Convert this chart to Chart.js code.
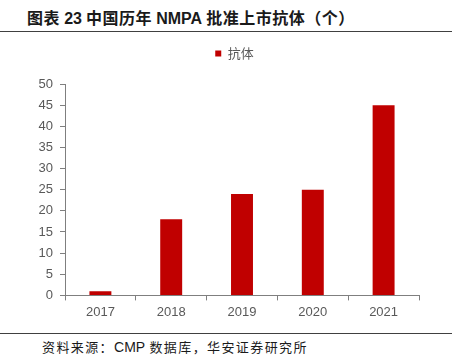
<!DOCTYPE html>
<html>
<head>
<meta charset="utf-8">
<script src="https://cdn.jsdelivr.net/npm/chart.js@4"></script>
<style>
    body { margin: 0; width: 459px; height: 363px; background: #fff; position: relative; overflow: hidden; }
    #title { position: absolute; left: 27px; top: 5px; font: bold 16px "Noto Sans CJK SC", sans-serif; letter-spacing: 0.5px; color: #1a1a1a; white-space: nowrap; }
    #title .lat { font-family: "Liberation Sans", Arial, sans-serif; letter-spacing: 0; }
    .rule { position: absolute; left: 0; width: 452px; height: 1px; background: #404040; }
    #source { position: absolute; left: 42px; top: 337px; font: 13px "Noto Sans CJK SC", sans-serif; letter-spacing: 1.4px; color: #1a1a1a; white-space: nowrap; }
    #source .lat { font-family: "Liberation Sans", Arial, sans-serif; font-size: 14px; letter-spacing: 0; }
    #box { position: absolute; left: 0; top: 38px; width: 459px; height: 290px; }
</style>
</head>
<body>
<div id="title">图表 <span class="lat">23</span> 中国历年 <span class="lat">NMPA</span> 批准上市抗体（个）</div>
<div class="rule" style="top:31px"></div>
<div id="box"><canvas id="chart"></canvas></div>
<div class="rule" style="top:333px"></div>
<div id="source">资料来源：<span class="lat">CMP</span> 数据库，华安证券研究所</div>
<script>
const years = ['2017', '2018', '2019', '2020', '2021'];
const antibodies = [1, 18, 24, 25, 45];
const seriesName = '抗体';

const axisColor = '#7f7f7f';
const textColor = '#595959';

// push the plot down below the legend, and nudge the legend right
const legendGap = {
    id: 'legendGap',
    beforeInit(chart) {
        const fit = chart.legend.fit;
        chart.legend.fit = function () {
            fit.bind(chart.legend)();
            this.height += 14;
        };
    },
    afterLayout(chart) {
        chart.legend.left += 25;
        chart.legend.right += 25;
    }
};

document.addEventListener("DOMContentLoaded", function () {
    let ctx = document.getElementById('chart');
    new Chart(ctx, {
        type: 'bar',
        data: {
            labels: years,
            datasets: [{
                label: seriesName,
                data: antibodies,
                backgroundColor: '#c00000',
                borderWidth: 0,
                categoryPercentage: 1,
                barPercentage: 0.31
            }]
        },
        options: {
            responsive: true,
            maintainAspectRatio: false,
            animation: false,
            layout: { padding: { left: 0, right: 40, top: 3, bottom: 4 } },
            plugins: {
                legend: {
                    labels: {
                        usePointStyle: true,
                        pointStyle: 'rect',
                        boxWidth: 6,
                        boxHeight: 6,
                        color: textColor,
                        font: { family: '"Noto Sans CJK SC", sans-serif', size: 13 },
                        padding: 6
                    }
                },
                tooltip: { enabled: false }
            },
            scales: {
                x: {
                    grid: { drawOnChartArea: false, color: axisColor, tickLength: 5, offset: true },
                    border: { color: axisColor, width: 1 },
                    ticks: { color: textColor, font: { family: '"Liberation Sans", Arial', size: 13 }, padding: 4 }
                },
                y: {
                    min: 0,
                    max: 50,
                    afterFit: (scale) => { scale.width = 65; },
                    grid: { drawOnChartArea: false, color: axisColor, tickLength: 5 },
                    border: { color: axisColor, width: 1 },
                    ticks: { stepSize: 5, color: textColor, font: { family: '"Liberation Sans", Arial', size: 13 }, padding: 7 }
                }
            }
        },
        plugins: [legendGap]
    });
});
</script>
</body>
</html>
